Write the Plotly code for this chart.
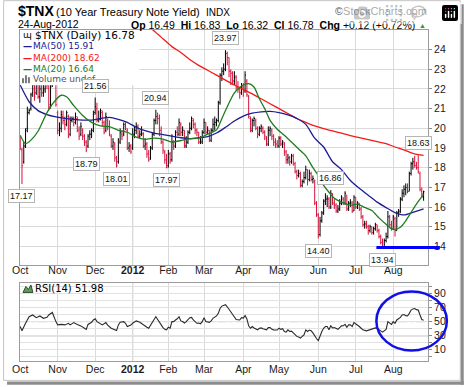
import plotly.graph_objects as go
import pandas as pd

# ---------------- data ----------------
holidays = ["2011-11-24", "2011-12-26", "2012-01-02", "2012-01-16",
            "2012-02-20", "2012-04-06", "2012-05-28", "2012-07-04"]
dates = [d for d in pd.bdate_range("2011-10-03", "2012-08-24")
         if d.strftime("%Y-%m-%d") not in holidays]

opens = [
    # Oct 2011
    19.2, 18.9, 18.3, 19.1, 20.0, 20.8, 21.0, 21.8, 22.0, 21.8, 22.3, 21.6, 22.0, 21.8, 22.0, 22.3, 22.0, 21.2, 22.2, 23.6, 23.0,
    # Nov
    20.8, 19.9, 20.0, 20.6, 20.4, 20.2, 20.6, 19.7, 20.4, 20.5, 20.3, 20.5, 19.9, 19.7, 19.9, 19.6, 19.3, 19.1, 19.7, 19.7, 19.9,
    # Dec
    20.8, 21.0, 20.5, 20.5, 20.8, 20.3, 19.9, 20.4, 20.1, 19.6, 19.1, 19.2, 18.5, 18.3, 19.3, 19.7, 19.7, 20.1, 19.9, 19.0, 19.1,
    # Jan 2012
    19.0, 19.7, 19.9, 20.1, 19.6, 19.7, 19.7, 19.1, 19.2, 18.7, 18.5, 19.0, 19.7, 20.4, 20.6, 20.5, 19.9, 19.3, 18.8, 18.4,
    # Feb
    18.1, 18.7, 18.4, 19.2, 19.1, 19.8, 19.7, 20.2, 19.8, 19.9, 19.1, 19.3, 19.8, 20.0, 20.4, 20.2, 19.9, 19.8, 19.3, 19.3,
    # Mar
    19.8, 20.3, 19.8, 19.9, 19.4, 19.9, 20.2, 20.3, 20.4, 21.3, 22.7, 22.9, 23.0, 23.8, 23.6, 22.9, 22.8, 22.4, 22.6, 22.1, 22.0, 21.8,
    # Apr
    22.1, 21.9, 22.4, 21.6, 20.5, 19.9, 20.4, 20.4, 20.0, 19.7, 20.0, 20.0, 19.8, 19.5, 19.2, 19.9, 19.9, 19.6, 19.3, 19.2,
    # May
    19.1, 19.5, 19.2, 19.2, 18.8, 18.4, 18.5, 18.3, 18.6, 18.2, 17.8, 17.6, 17.7, 17.1, 17.3, 17.5, 17.9, 17.4, 17.7, 17.4, 17.3, 16.2,
    # Jun
    15.6, 14.6, 15.3, 15.7, 16.3, 16.4, 16.4, 16.0, 16.6, 16.2, 16.1, 15.8, 15.9, 16.2, 16.4, 16.2, 16.6, 15.9, 16.2, 16.2, 15.8,
    # Jul
    16.5, 16.0, 16.2, 15.9, 15.5, 15.1, 15.1, 15.0, 14.8, 15.0, 14.7, 14.9, 15.1, 14.8, 14.5, 14.2, 14.0, 14.3, 14.5, 15.5, 15.1,
    # Aug
    14.9, 15.4, 14.8, 15.7, 15.8, 16.4, 16.7, 16.9, 17.0, 16.8, 17.7, 18.2, 18.3, 18.1, 18.0, 17.7, 16.8, 16.49,
]
highs = [
    19.6, 19.0, 19.3, 20.0, 21.1, 21.0, 21.8, 22.6, 22.2, 22.6, 22.4, 22.2, 22.2, 22.3, 22.5, 22.6, 22.2, 22.2, 23.9, 23.7, 23.1,
    20.9, 20.3, 20.9, 20.9, 20.6, 20.9, 20.7, 20.6, 20.6, 20.6, 20.8, 20.6, 20.1, 20.3, 20.0, 19.7, 19.4, 19.7, 19.9, 20.0, 20.9,
    21.56, 21.3, 20.9, 21.0, 20.9, 20.4, 20.8, 20.5, 20.4, 19.7, 19.5, 19.3, 18.6, 19.5, 20.0, 19.9, 20.3, 20.3, 20.0, 19.3, 19.2,
    20.0, 20.1, 20.3, 20.2, 19.9, 20.1, 19.8, 19.5, 19.3, 18.9, 19.1, 19.8, 20.5, 20.94, 20.8, 20.7, 20.1, 19.4, 18.9, 18.7,
    18.9, 18.8, 19.7, 19.4, 19.9, 20.1, 20.5, 20.3, 20.1, 19.9, 19.6, 19.9, 20.3, 20.6, 20.5, 20.3, 20.0, 19.8, 19.6, 19.9,
    20.5, 20.3, 20.1, 19.9, 20.0, 20.5, 20.6, 20.5, 21.4, 22.8, 23.1, 23.3, 23.97, 23.9, 23.6, 23.0, 22.9, 22.9, 22.7, 22.4, 22.1, 22.3,
    22.3, 22.9, 22.5, 21.7, 20.6, 20.5, 20.6, 20.5, 20.1, 20.1, 20.2, 20.1, 19.9, 19.6, 20.1, 20.1, 20.0, 19.7, 19.5, 19.4,
    19.6, 19.6, 19.4, 19.3, 18.9, 18.7, 18.6, 18.7, 18.7, 18.3, 17.9, 17.9, 17.8, 17.4, 17.8, 18.1, 17.9, 17.9, 17.8, 17.6, 17.4, 16.3,
    15.7, 15.5, 15.8, 16.4, 16.7, 16.6, 16.5, 16.86, 16.7, 16.4, 16.2, 16.1, 16.4, 16.6, 16.5, 16.8, 16.6, 16.3, 16.4, 16.3, 16.6,
    16.5, 16.3, 16.2, 16.0, 15.6, 15.3, 15.3, 15.1, 15.1, 15.0, 15.0, 15.2, 15.1, 14.9, 14.6, 14.4, 14.4, 14.7, 15.8, 15.6, 15.3,
    15.6, 15.5, 15.8, 15.9, 16.5, 16.9, 17.1, 17.2, 17.2, 17.8, 18.3, 18.5, 18.6, 18.3, 18.63, 17.8, 17.0, 16.83,
]
lows = [
    18.9, 17.17, 18.2, 19.0, 19.8, 20.7, 20.9, 21.6, 21.4, 21.7, 21.5, 21.3, 21.6, 21.6, 21.8, 22.0, 20.9, 21.0, 22.1, 23.0, 21.1,
    19.7, 19.6, 19.8, 20.2, 19.9, 20.1, 19.5, 19.6, 20.3, 20.1, 20.2, 19.8, 19.4, 19.6, 19.4, 19.1, 18.79, 19.0, 19.4, 19.5, 19.8,
    20.7, 20.3, 20.3, 20.4, 20.1, 19.7, 19.8, 19.9, 19.6, 19.0, 18.9, 18.3, 18.01, 18.2, 19.2, 19.4, 19.6, 19.9, 18.9, 18.8, 18.7,
    18.9, 19.5, 19.7, 19.5, 19.5, 19.6, 19.0, 18.9, 18.5, 18.3, 18.4, 18.9, 19.6, 20.2, 20.2, 19.6, 19.2, 18.7, 18.2, 17.97,
    18.0, 18.2, 18.3, 18.9, 19.0, 19.6, 19.6, 19.6, 19.6, 19.0, 19.0, 19.2, 19.7, 19.9, 20.0, 19.7, 19.6, 19.2, 19.2, 19.2,
    19.7, 19.7, 19.7, 19.3, 19.3, 19.8, 19.9, 20.1, 20.3, 21.2, 22.4, 22.7, 22.9, 23.2, 22.6, 22.2, 22.2, 22.2, 21.9, 21.8, 21.5, 21.7,
    21.6, 21.8, 21.6, 20.5, 19.8, 19.8, 20.1, 19.9, 19.5, 19.6, 19.8, 19.7, 19.4, 19.1, 19.1, 19.6, 19.4, 19.1, 19.0, 19.0,
    19.0, 19.1, 19.0, 18.6, 18.2, 18.2, 18.1, 18.2, 18.1, 17.7, 17.4, 17.5, 17.0, 17.0, 17.2, 17.4, 17.1, 17.3, 17.3, 17.2, 16.1, 15.5,
    14.40, 14.5, 15.2, 15.6, 16.1, 16.0, 15.9, 15.9, 16.1, 15.9, 15.7, 15.7, 15.8, 16.1, 16.1, 16.1, 15.8, 15.8, 16.0, 15.7, 15.8,
    15.9, 15.9, 15.8, 15.4, 15.0, 14.9, 14.9, 14.6, 14.7, 14.6, 14.6, 14.8, 14.7, 14.4, 14.1, 13.94, 13.96, 14.2, 14.4, 15.0, 14.8,
    14.9, 14.5, 14.8, 15.5, 15.7, 16.3, 16.5, 16.6, 16.7, 16.8, 17.6, 17.9, 18.0, 17.9, 17.7, 16.8, 16.5, 16.32,
]
closes = [
    18.95, 18.1, 19.1, 19.9, 20.8, 20.9, 21.7, 22.2, 21.6, 22.5, 21.6, 22.0, 21.8, 21.9, 22.3, 22.2, 21.1, 22.1, 23.7, 23.2, 21.2,
    19.9, 20.0, 20.7, 20.4, 20.2, 20.8, 19.6, 20.4, 20.5, 20.3, 20.6, 19.9, 19.6, 20.1, 19.6, 19.3, 18.9, 19.6, 19.7, 19.9, 20.7,
    21.1, 20.4, 20.45, 20.9, 20.3, 19.8, 20.6, 20.1, 19.7, 19.1, 19.3, 18.5, 18.1, 19.4, 19.8, 19.6, 20.2, 20.0, 19.0, 19.1, 18.8,
    19.7, 19.9, 20.1, 19.6, 19.7, 19.75, 19.1, 19.2, 18.7, 18.4, 19.0, 19.7, 20.4, 20.6, 20.5, 19.9, 19.3, 18.9, 18.4, 18.0,
    18.7, 18.4, 19.3, 19.1, 19.8, 19.7, 20.3, 19.8, 19.9, 19.1, 19.3, 19.8, 20.0, 20.5, 20.2, 19.9, 19.8, 19.3, 19.35, 19.8,
    20.3, 19.8, 19.9, 19.4, 19.9, 20.2, 20.3, 20.4, 21.3, 22.7, 22.9, 23.0, 23.8, 23.6, 22.9, 22.8, 22.4, 22.6, 22.1, 22.0, 21.8, 22.1,
    21.9, 22.7, 21.7, 20.6, 20.0, 20.4, 20.5, 20.0, 19.7, 20.0, 20.1, 19.8, 19.6, 19.2, 19.9, 20.0, 19.6, 19.3, 19.2, 19.1,
    19.5, 19.2, 19.3, 18.8, 18.4, 18.5, 18.3, 18.6, 18.2, 17.8, 17.6, 17.7, 17.1, 17.3, 17.5, 17.9, 17.4, 17.7, 17.4, 17.45, 16.2, 15.6,
    14.6, 15.3, 15.7, 16.3, 16.4, 16.45, 16.0, 16.7, 16.2, 16.1, 15.8, 15.9, 16.2, 16.5, 16.2, 16.7, 15.9, 16.2, 16.25, 15.8, 16.5,
    16.0, 16.2, 15.9, 15.5, 15.1, 15.15, 15.0, 14.8, 15.0, 14.7, 14.9, 15.1, 14.8, 14.5, 14.2, 14.0, 14.3, 14.5, 15.5, 15.1, 14.9,
    15.5, 14.8, 15.7, 15.75, 16.4, 16.7, 16.9, 17.0, 16.8, 17.7, 18.2, 18.3, 18.1, 18.0, 17.8, 16.9, 16.66, 16.78,
]

# moving averages (trading-day index, value)
ma20_idx = [0, 3, 6, 10, 15, 20, 23, 26, 30, 35, 40, 45, 50, 55, 60, 65, 70, 75, 80, 85, 90, 95, 100, 105, 110, 113, 116,
            120, 124, 128, 131, 134, 137, 140, 144, 148, 152, 156, 160, 164, 167, 170, 173, 176, 180, 185, 189, 193, 197,
            201, 205, 208, 210, 213, 216, 219, 222, 226]
ma20_val = [19.65, 19.22, 19.4, 19.85, 20.8, 21.45, 21.68, 21.6, 21.15, 20.65, 20.3, 20.12, 20.08, 19.9, 19.8, 19.55,
            19.44, 19.5, 19.45, 19.3, 19.38, 19.47, 19.5, 19.7, 19.92, 20.5, 21.1, 21.8, 22.15, 22.27, 22.1, 21.5, 21.0,
            20.4, 19.95, 19.65, 19.3, 18.95, 18.6, 18.0, 17.6, 17.1, 16.75, 16.45, 16.25, 16.1, 16.15, 15.98, 15.82, 15.45,
            15.12, 14.9, 14.86, 14.97, 15.3, 15.73, 16.15, 16.64]
ma50_idx = [0, 5, 10, 15, 20, 25, 30, 35, 40, 45, 50, 55, 60, 65, 70, 75, 80, 85, 90, 95, 100, 105, 110, 115, 120, 125,
            130, 135, 140, 145, 150, 155, 160, 165, 170, 175, 180, 185, 190, 195, 200, 205, 210, 215, 220, 226]
ma50_val = [22.2, 21.35, 20.9, 20.7, 20.58, 20.5, 20.45, 20.42, 20.42, 20.5, 20.56, 20.46, 20.3, 20.05, 19.88, 19.76,
            19.68, 19.6, 19.52, 19.48, 19.52, 19.58, 19.76, 20.05, 20.37, 20.62, 20.77, 20.84, 20.86, 20.8, 20.68, 20.5,
            20.2, 19.5, 19.05, 18.3, 17.9, 17.35, 16.95, 16.6, 16.25, 15.97, 15.72, 15.6, 15.73, 15.91]
ma200_idx = [70, 75, 80, 85, 90, 95, 100, 105, 110, 115, 120, 125, 130, 135, 140, 145, 150, 155, 160, 165, 170, 175, 180,
             185, 190, 195, 200, 205, 210, 215, 220, 226]
ma200_val = [25.3, 24.95, 24.55, 24.15, 23.85, 23.5, 23.2, 22.95, 22.7, 22.45, 22.2, 21.98, 21.75, 21.5, 21.25, 21.0,
             20.75, 20.5, 20.3, 20.12, 19.98, 19.87, 19.75, 19.63, 19.53, 19.43, 19.32, 19.22, 19.05, 18.9, 18.73, 18.62]

rsi_points = [
    (0, 43), (1, 37), (3, 47.6), (5, 57), (7, 59.4), (9, 55.6), (11, 58), (13, 54.7), (15, 56), (16, 59.4), (18, 63),
    (19, 55), (20, 50), (21, 45.3), (23, 46), (25, 45.3), (27, 47.6), (28, 45.3), (30, 48.6), (32, 46), (34, 43.9),
    (36, 40.6), (37, 39), (38, 46), (40, 49), (41, 52.3), (42, 54), (43, 50), (45, 47), (46, 45.3), (48, 48.6), (49, 45),
    (51, 40.6), (53, 38), (54, 37.3), (55, 45.3), (56, 49), (58, 50), (59, 47.6), (60, 43), (62, 45), (63, 47.6), (65, 51),
    (67, 49), (69, 45), (71, 42), (72, 40.6), (74, 50), (75, 53), (76, 57), (77, 53), (78, 50), (79, 45), (80, 41.5),
    (81, 39), (82, 38.3), (83, 42), (84, 40.6), (85, 50), (86, 50), (87, 52.3), (88, 54), (89, 57), (90, 51), (91, 50),
    (92, 48), (93, 50), (94, 52.3), (95, 55.6), (96, 56), (97, 52.3), (99, 47.6), (100, 48), (101, 47), (102, 50),
    (103, 55.6), (104, 50), (106, 49), (107, 51), (108, 54.7), (110, 58), (111, 61.7), (112, 69), (113, 72), (114, 73.5),
    (115, 74), (116, 71), (117, 67), (118, 64), (119, 59.4), (120, 57), (121, 53), (123, 52.3), (124, 55.6), (125, 55),
    (126, 58.5), (127, 53.8), (128, 44), (129, 40.6), (130, 43), (131, 41), (132, 39.7), (133, 38.3), (134, 40.6),
    (135, 41), (136, 39.7), (138, 38.3), (139, 41.5), (140, 41.5), (141, 39), (142, 38.3), (144, 38), (145, 40.6),
    (146, 39), (147, 40), (148, 36), (149, 35), (150, 38.3), (151, 36), (152, 36.5), (153, 33.6), (154, 30.3), (155, 29),
    (156, 28), (157, 26.5), (158, 29), (159, 31.2), (160, 38.3), (161, 36), (162, 38), (163, 36.9), (164, 34), (165, 29),
    (166, 26), (167, 23), (168, 31.2), (169, 36), (170, 40.6), (171, 43), (172, 43), (173, 38.3), (174, 44), (175, 41),
    (176, 41.5), (178, 39), (179, 41.5), (180, 43.9), (181, 44), (182, 46), (183, 42), (184, 45.3), (185, 45.3), (186, 43),
    (187, 48.6), (188, 47), (189, 45.3), (190, 43), (191, 40.6), (192, 38.3), (194, 36.9), (196, 38.3), (198, 40.6),
    (199, 41), (200, 40.6), (201, 38), (202, 36.9), (203, 35), (204, 37), (205, 39), (206, 50), (207, 47.6), (208, 46),
    (209, 50), (210, 47.6), (211, 52.3), (213, 56), (214, 59.4), (215, 60), (216, 58.5), (217, 58), (218, 61.7),
    (219, 66.4), (220, 68), (221, 68.5), (222, 67), (223, 66.4), (224, 59.4), (225, 53), (226, 51.98),
]
rsi_idx = [p[0] for p in rsi_points]
rsi_val = [p[1] for p in rsi_points]

month_labels = ["Oct", "Nov", "Dec", "<b>2012</b>", "Feb", "Mar", "Apr", "May", "Jun", "Jul", "Aug"]
hi_label_idx = [42, 76, 115, 174, 223]
lo_label_idx = [1, 37, 54, 82, 167, 203]

# ---------------- layout geometry (pixels) ----------------
W, H = 464, 387
PL, PR, PT, PB = 17, 428, 30, 363
MAIN_BOTTOM, RSI_TOP = 266, 285


def fx(px):
    return (px - PL) / (PR - PL)


def fy(py):
    return (PB - py) / (PB - PT)


n = len(closes)
idx = list(range(n))
month_starts = [0] + [i for i in range(1, n) if dates[i].month != dates[i - 1].month]
jan_idx = [i for i in month_starts if dates[i].month == 1][0]

RED = "#d6123a"
C_MA50 = "#1c1c96"
C_MA200 = "#f21a1a"
C_MA20 = "#1f7d1f"
GRID = "#dadada"
BORDER = "#9c9c9c"
TICKFONT = dict(family="Liberation Sans, Arial", size=10.5, color="#1a1a1a")

fig = go.Figure()

# price bars, coloured by close vs previous close
prev = [opens[0]] + closes[:-1]
for want_up, col in [(True, "#000000"), (False, RED)]:
    sel = [i for i in idx if (closes[i] >= prev[i]) == want_up]
    fig.add_trace(go.Ohlc(
        x=sel, open=[opens[i] for i in sel], high=[highs[i] for i in sel],
        low=[lows[i] for i in sel], close=[closes[i] for i in sel],
        increasing=dict(line=dict(color=col, width=1)),
        decreasing=dict(line=dict(color=col, width=1)),
        tickwidth=0.5, hoverinfo="skip", showlegend=False, xaxis="x", yaxis="y"))

for xs, ys, col in [(ma200_idx, ma200_val, C_MA200), (ma50_idx, ma50_val, C_MA50), (ma20_idx, ma20_val, C_MA20)]:
    fig.add_trace(go.Scatter(x=xs, y=ys, mode="lines", line=dict(color=col, width=1.3, shape="spline", smoothing=0.7),
                             hoverinfo="skip", showlegend=False, xaxis="x", yaxis="y"))

fig.add_trace(go.Scatter(x=rsi_idx, y=rsi_val, mode="lines", line=dict(color="#2a2a2a", width=1.1),
                         hoverinfo="skip", showlegend=False, xaxis="x2", yaxis="y2"))

xr = [(PL - (PL + 0.2)) / 1.798, (PR - (PL + 0.2)) / 1.798]
common_x = dict(range=xr, tickmode="array", tickvals=month_starts, ticktext=month_labels, showgrid=True,
                gridcolor=GRID, gridwidth=1, showline=True, mirror=True, linecolor=BORDER, linewidth=1, ticks="",
                tickfont=TICKFONT, zeroline=False, fixedrange=True)

fig.update_layout(
    width=W, height=H, autosize=False,
    margin=dict(l=PL, r=W - PR, t=PT, b=H - PB, pad=0),
    paper_bgcolor="white", plot_bgcolor="white", showlegend=False,
    xaxis=dict(domain=[0, 1], anchor="y", rangeslider=dict(visible=False), ticklabelstandoff=-4, **common_x),
    xaxis2=dict(domain=[0, 1], anchor="y2", matches="x", rangeslider=dict(visible=False), ticklabelstandoff=-2,
                **common_x),
    yaxis=dict(domain=[fy(MAIN_BOTTOM), 1], anchor="x", side="right", range=[13.076, 24.995],
               tickmode="array", tickvals=list(range(14, 25)), ticktext=[str(v) for v in range(14, 25)],
               showgrid=True, gridcolor=GRID, showline=True, mirror=True, linecolor=BORDER, ticks="outside",
               ticklen=3, tickcolor="#8a8a8a", tickfont=TICKFONT, zeroline=False, fixedrange=True),
    yaxis2=dict(domain=[0, fy(RSI_TOP)], anchor="x2", side="right", range=[-5.9, 104.1],
                tickmode="array", tickvals=list(range(0, 101, 10)),
                ticktext=["", "10", "", "30", "", "50", "", "70", "", "90", ""],
                showgrid=True, gridcolor="#e2e2e2", showline=True, mirror=True, linecolor=BORDER,
                ticks="outside", ticklen=3, tickcolor="#8a8a8a", tickfont=TICKFONT, zeroline=False, fixedrange=True),
)


def ppath(points):
    return "M " + " L ".join(f"{fx(a):.5f},{fy(b):.5f}" for a, b in points) + " Z"


shapes = []
# year separator
for xa, ya in [("x", "y domain"), ("x2", "y2 domain")]:
    shapes.append(dict(type="line", xref=xa, yref=ya, x0=jan_idx, x1=jan_idx, y0=0, y1=1,
                       line=dict(color="#9a9a9a", width=1), layer="below"))
# RSI reference lines
for lvl, dash in [(70, "solid"), (30, "solid"), (50, "dashdot")]:
    shapes.append(dict(type="line", xref="x2 domain", yref="y2", x0=0, x1=1, y0=lvl, y1=lvl,
                       line=dict(color="#6e6e6e", width=1, dash=dash), layer="below"))
# legend background
shapes.append(dict(type="rect", xref="paper", yref="paper", x0=fx(17.6), x1=fx(137), y0=fy(85.5), y1=fy(30.6),
                   fillcolor="white", line=dict(width=0), layer="above"))
# legend icons: volume bars and RSI mountain
for a, b, top in [(19, 21, 78.5), (22, 24, 75.5), (25, 27, 77.5)]:
    shapes.append(dict(type="rect", xref="paper", yref="paper", x0=fx(a), x1=fx(b), y0=fy(83.5), y1=fy(top),
                       fillcolor="#777777", line=dict(width=0), layer="above"))
shapes.append(dict(type="path", xref="paper", yref="paper",
                   path=ppath([(20, 294), (23, 288), (25.5, 291), (28, 286.5), (30, 294)]),
                   fillcolor="#5f9a5f", line=dict(color="#2d4d2d", width=1), layer="above"))
# blue support line at the low
shapes.append(dict(type="line", xref="paper", yref="y", x0=fx(376), x1=fx(440), y0=min(lows), y1=min(lows),
                   line=dict(color="#0000ff", width=3)))
# blue ellipse around the RSI
shapes.append(dict(type="circle", xref="paper", yref="paper", x0=fx(376), x1=fx(447), y0=fy(352.5), y1=fy(293),
                   line=dict(color="#1010e6", width=2.5)))
# image frame and shadow
shapes.append(dict(type="rect", xref="paper", yref="paper", x0=fx(0.5), x1=fx(460.5), y0=fy(382.5), y1=fy(0.5),
                   line=dict(color="#c4c4c4", width=1)))
shapes.append(dict(type="rect", xref="paper", yref="paper", x0=fx(461), x1=fx(464), y0=fy(387), y1=fy(4),
                   fillcolor="#8c8c8c", line=dict(width=0)))
shapes.append(dict(type="rect", xref="paper", yref="paper", x0=fx(4), x1=fx(464), y0=fy(387), y1=fy(383.5),
                   fillcolor="#8c8c8c", line=dict(width=0)))
fig.update_layout(shapes=shapes)

ann = []


def txt(px, py, s, size=11, color="#000", family="Liberation Sans, Arial", xanchor="left"):
    ann.append(dict(xref="paper", yref="paper", x=fx(px), y=fy(py), text=s, showarrow=False, xanchor=xanchor,
                    yanchor="middle", font=dict(size=size, color=color, family=family), borderpad=0))


# header
txt(14, 11, "<b>$TNX</b>", size=14)
txt(52, 11.5, "(10 Year Treasury Note Yield)", size=11)
txt(203, 12, "INDX", size=10)
txt(428, 11, "\u00a9StockCharts.com", size=11, color="#555", xanchor="right")
txt(14, 24, dates[-1].strftime("%d-%b-%Y"), size=10.5)
chg = closes[-1] - closes[-2]
pct = chg / closes[-2] * 100
sp = "\u00a0\u00a0"
head2 = (f"<b>Op</b> {opens[-1]:.2f}{sp}<b>Hi</b> {highs[-1]:.2f}{sp}<b>Lo</b> {lows[-1]:.2f}{sp}"
         f"<b>Cl</b> {closes[-1]:.2f}{sp}<b>Chg</b> {chg:+.2f} ({pct:+.2f}%)")
txt(416, 24.5, head2, size=10.5, xanchor="right")
txt(418, 25, "\u25b2", size=7, color="#2e9a2e")

# legend
LF = "DejaVu Sans, Verdana"
txt(19, 35, "\u0270", size=9, family=LF)
txt(31, 35, f"$TNX (Daily) {closes[-1]:.2f}", size=10.5, family=LF)
for row, (lab, val, col) in enumerate([("MA(50)", ma50_val[-1], C_MA50), ("MA(200)", ma200_val[-1], C_MA200),
                                       ("MA(20)", ma20_val[-1], C_MA20)]):
    py = 46.5 + row * 11.2
    txt(19, py, "<b>\u2014</b>", size=9, color=col, family=LF)
    txt(29, py, f"{lab} {val:.2f}", size=9, color=col, family=LF)
txt(29, 79.6, "Volume undef", size=9, color="#555", family=LF)
# RSI legend
txt(31, 290, f"RSI(14) {rsi_val[-1]:.2f}", size=10, family=LF)

# high / low value labels
for i in hi_label_idx:
    ann.append(dict(x=i, y=highs[i], xref="x", yref="y", text=f"{highs[i]:.2f}", showarrow=False,
                    yanchor="bottom", yshift=5, font=dict(size=9, family="Liberation Sans, Arial", color="#111"),
                    bgcolor="white", bordercolor="#b5b5b5", borderwidth=1, borderpad=1))
for i in lo_label_idx:
    ann.append(dict(x=i, y=lows[i], xref="x", yref="y", text=f"{lows[i]:.2f}", showarrow=False,
                    yanchor="top", yshift=-5, font=dict(size=9, family="Liberation Sans, Arial", color="#111"),
                    bgcolor="white", bordercolor="#b5b5b5", borderwidth=1, borderpad=1))

fig.update_layout(annotations=ann)
fig.write_html("out.html", post_script="document.body.style.margin='0';document.body.style.padding='0';")
